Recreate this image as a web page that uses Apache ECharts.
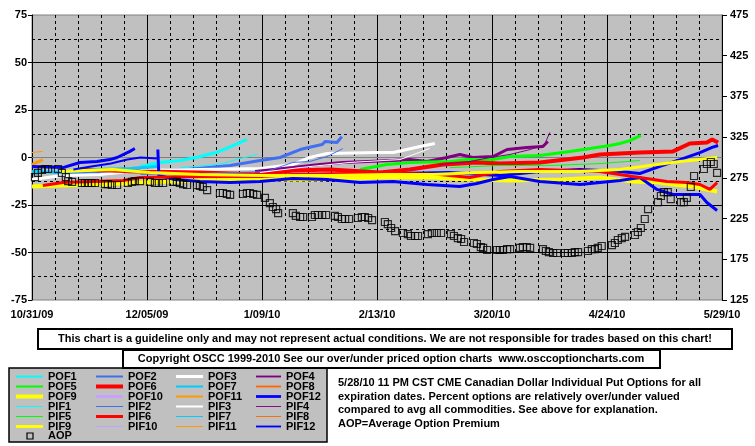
<!DOCTYPE html>
<html><head><meta charset="utf-8">
<script src="https://cdn.jsdelivr.net/npm/echarts@6/dist/echarts.min.js"></script>
<style>html,body{margin:0;padding:0;background:#fff}#c{width:755px;height:446px}</style>
</head><body><div id="c"></div>
<script>
// x = days since 10/31/09
const dateLabels = ['10/31/09','12/05/09','1/09/10','2/13/10','3/20/10','4/24/10','5/29/10'];

const pof1 = [[33,-4.7],[39,-2.6],[45,-1.6],[50,0],[56,2.6],[60,5.3],[65.4,9.5]];
const pif1 = [[45,-5.3],[53,-4.2],[58,-3.2],[62,-1.1],[66,0.5],[68.5,1.6]];
const pof2 = [[8.5,-8.4],[20.7,-7.9],[32.9,-7.4],[47.2,-6.3],[60.3,-4.2],[69.4,-1.6],[75.5,0],[81.6,4.2],[85.5,5.8],[88.3,6.8],[89.2,8.4],[92.8,7.9],[94.3,11]];
const pif2 = [[33,-8.9],[51,-8.4],[71.3,-7.4],[79.4,-2.6],[84.5,-2.1],[89.8,0.5],[94.6,4.7]];
const pof3 = [[0,-11.6],[9.4,-9.5],[20.7,-8.9],[32.9,-6.8],[51.1,-6.3],[69.4,-5.8],[79.4,-3.7],[84.5,0],[89.8,2.1],[105,2.6],[109.9,2.6],[114.1,4.2],[118.1,5.8],[122.6,7.4]];
const pif3 = [[69.4,-7.9],[81.6,-5.3],[96.8,-2.6],[112,-1.1],[121,4.7]];
const pof4 = [[67.9,-7.4],[79.4,-5.3],[87.6,-3.7],[94.6,-2.6],[109.9,-1.6],[115,-1.1],[120.2,-2.1],[126.3,0],[130.2,1.6],[134.2,0],[140.3,0.5],[144.6,4.2],[150.6,5.3],[155.5,5.8],[157,8.4]];
const pif4 = [[124,-3.7],[133.3,-2.1],[139.4,0],[145.5,1.6],[151.6,4.2],[156,6.8],[157.6,13.2]];
const pof5 = [[99.8,-6.3],[108,-3.7],[115,-2.6],[127.2,-2.1],[132.4,-1.1],[140.3,-1.1],[145.5,0.5],[154.6,1.1],[163.7,3.2],[169.8,4.7],[175.9,6.3],[178.9,7.4],[182,8.9],[185.3,11.6]];
const pif5 = [[127.2,-5.3],[142.4,-4.2],[157.6,-4.2],[172.9,-3.2],[185,-1.6]];
const pof6 = [[14.6,-6.3],[32.9,-7.4],[51.1,-7.9],[69.4,-8.9],[79.4,-6.8],[90.7,-6.3],[105.9,-7.9],[115,-6.3],[125.1,-3.7],[135.4,-2.6],[142.4,-3.2],[154.6,-2.6],[167.7,0],[172.9,1.6],[185,2.6],[195.1,3.2],[200.2,7.4],[205.4,7.9],[207,9.5],[208.8,7.9]];
const pif6 = [[3.3,-14.7],[9.4,-13.2],[27.7,-12.1],[32.9,-10.5],[51.1,-10],[69.4,-10],[79.4,-8.9],[96.8,-8.4],[112,-8.4],[124.1,-8.9],[133.3,-10.5],[142.4,-7.4],[154.6,-6.3],[172.9,-7.4],[182.9,-10],[193.2,-12.6],[199.3,-13.2],[203.3,-14.2],[206.3,-16.8],[208.5,-13.2]];
const pof7 = [[0,-7.4],[8,-7.9],[20,-6.3],[30,-5.8],[38,-4.7]];
const pif7 = [];
const pof8 = [];
const pif8 = [];
const pof9 = [[0,-15.3],[8.5,-14.7],[20.7,-14.2],[33.8,-13.2],[51.1,-12.1],[69.4,-11.6],[86.7,-11.6],[106.8,-10.5],[122,-10.5],[133.3,-11.6],[145.5,-12.1],[160.7,-11.6],[172.9,-10.5],[182.9,-12.6],[191.1,-13.2],[195.1,-14.2],[201.2,-15.3],[205.4,-16.8],[208.5,-17.9]];
const pif9 = [[8.5,-7.4],[24.6,-6.3],[35.9,-7.9],[51.1,-8.9],[69.4,-9.5],[90.7,-9.5],[108,-8.9],[122,-8.9],[136.3,-7.9],[148.5,-7.4],[166.8,-7.4],[179,-6.3],[188,-4.2],[197.2,-2.1],[203.3,-1.1],[208.5,0]];
const pof10 = [];
const pif10 = [];
const pof11 = [[0,-3.7],[3.3,-1.1]];
const pif11 = [[0,2.6],[3.3,3.2]];
const pof12a = [[0,-4.7],[9.4,-5.3],[14.6,-2.6],[19.8,-2.1],[23.7,-1.1],[25.9,0],[29.8,3.2],[31.3,4.7]];
const pof12b = [[38.3,4.2],[38.6,-9.5],[43.5,-11.6],[51.1,-12.6],[60.3,-13.2],[69.4,-12.6],[79.4,-11],[89.8,-11.6],[99.8,-13.2],[109.9,-12.6],[120.2,-14.2],[130.2,-15.3],[135.4,-13.7],[140.3,-11.6],[145.5,-10],[154.6,-12.6],[166.8,-14.2],[179,-12.1],[185,-10.5],[190.2,-16.8],[195.1,-19.5],[203.3,-19.5],[205.4,-23.7],[208.5,-27.9]];
const pof12c = [[112,-8.4],[127,-7.9],[142.4,-9.5],[154.6,-7.4],[166.8,-6.3],[179,-7.4],[185,-8.4],[191.1,-4.7],[197.2,-1.1],[203.3,2.6],[207,5.3],[208.8,6.3]];
const pif12 = [[12.6,-6.3],[18,-4.7],[24,-3.2],[29,-1.1],[33,0],[38,-0.5]];

// Average Option Premium (right axis)
const aop = [[0.9,276],[1.8,281],[3.0,284.7],[4.0,285.9],[4.9,285.9],[7.9,285.9],[9.1,281],[10.3,276],[11.0,271],[12.2,270],
[15.2,268.7],[16.1,268.7],[17.0,268.7],[18.1,268.7],[19.2,268.7],[22.2,267.4],[23.1,267.4],[24.3,266.2],[25.9,266.2],
[29.2,268.7],[30.4,270],[31.3,271],[32.9,271],[35.9,270],[37.4,268.7],[38.6,268.7],[39.9,268.7],
[42.9,270],[44.1,270],[45.0,268.7],[46.0,267.4],[47.2,266.2],[50.2,266.2],[51.1,265],[52.0,263.8],[53.3,260],
[57.2,256.4],[58.1,256.4],[59.3,255.2],[60.3,254],[64.2,255.2],[65.4,256.4],[66.3,256.4],[67.3,255.2],[68.5,254],
[70.9,250.3],[72.4,244],[73.3,239.2],[74.3,236.7],[74.9,231.8],[79.4,231.8],[80.3,228.2],[81.6,226.9],[82.5,226.9],
[85.2,226.9],[86.1,229.4],[87.0,229.4],[88.3,229.4],[89.5,229.4],[92.2,228.2],[93.1,226.9],[94.3,224.5],[95.3,224.5],[96.5,224.5],
[99.2,225.7],[100.4,226.9],[101.3,226.9],[102.3,225.7],[103.5,223.2],[107.4,220.8],[108.3,218.3],[109.3,213.4],[110.5,209.7],
[112.9,207.3],[114.4,206],[115.3,203.6],[116.6,203.6],[117.5,203.6],[120.5,206],[121.7,207.3],[123.2,207.3],[124.5,207.3],
[127.5,206],[128.4,203.6],[129.6,201.1],[130.6,199.9],[131.5,196.2],[134.5,195],[135.4,193.8],[136.6,190],[137.3,188.9],[138.5,186.4],
[141.5,186.4],[142.4,186.4],[143.3,186.4],[144.6,187.6],[145.5,187.6],[148.5,188.9],[149.4,190],[150.6,190],[151.6,188.9],
[155.5,187.6],[156.4,185.2],[157.3,183.9],[158.6,182.7],[159.8,182.7],[162.2,182.7],[163.1,182.7],[164.3,182.7],[165.2,183.9],[166.2,183.9],
[169.2,185.2],[170.4,187.6],[171.3,187.6],[172.2,188.9],[173.4,191.3],[176.5,192.5],[177.4,195],[178.3,198.7],[179.5,201.1],[180.5,202.4],
[183.5,204.8],[184.4,208.5],[185.3,213.4],[186.5,224.5],[187.5,236.7],[190.5,245.3],[191.4,252.7],[192.3,257.6],[193.5,257.6],[194.4,249],
[197.5,245.3],[198.4,245.3],[199.3,250.3],[200.5,263.8],[201.5,277.3],[204.5,285.9],[205.4,292],[206.6,294.5],[207.5,292],[208.5,281]];

const COL = {c1:'#00FFFF',c2:'#4070F0',c3:'#FFFFFF',c4:'#800080',c5:'#00FF00',c6:'#FF0000',
  c7:'#00CCFF',c8:'#FF6600',c9:'#FFFF00',c10:'#C8A0FF',c11:'#FF9900',c12:'#0000FF'};
const FONT = '"Liberation Sans", Arial, sans-serif';

function line(name, data, color, width, z) {
  return {name, type:'line', data, symbol:'none', showSymbol:false, silent:true,
    lineStyle:{color, width}, itemStyle:{color}, z: z || 2, animation:false};
}

const series = [
  line('POF1', pof1, COL.c1, 3), line('POF2', pof2, COL.c2, 3), line('POF3', pof3, COL.c3, 3), line('POF4', pof4, COL.c4, 3),
  line('POF5', pof5, COL.c5, 3), line('POF6', pof6, COL.c6, 4), line('POF7', pof7, COL.c7, 3), line('POF8', pof8, COL.c8, 3),
  line('POF9', pof9, COL.c9, 4), line('POF10', pof10, COL.c10, 3), line('POF11', pof11, COL.c11, 3), line('POF12', pof12a, COL.c12, 3),
  line('POF12', pof12b, COL.c12, 3), line('POF12', pof12c, COL.c12, 3),
  line('PIF1', pif1, COL.c1, 1), line('PIF2', pif2, COL.c2, 1), line('PIF3', pif3, COL.c3, 1), line('PIF4', pif4, COL.c4, 1),
  line('PIF5', pif5, COL.c5, 1), line('PIF6', pif6, COL.c6, 3), line('PIF7', pif7, COL.c7, 1), line('PIF8', pif8, COL.c8, 1),
  line('PIF9', pif9, COL.c9, 3), line('PIF10', pif10, COL.c10, 1), line('PIF11', pif11, COL.c11, 1), line('PIF12', pif12, COL.c12, 2),
  {name:'AOP', type:'scatter', yAxisIndex:1, data:aop, symbol:'rect', symbolSize:7, silent:true, z:3,
    itemStyle:{color:'rgba(0,0,0,0)', borderColor:'#000', borderWidth:1.2}, animation:false}
];

// legend grid: rows x columns of series names, with legend icon thickness
const legendRows = [
  ['POF1','POF2','POF3','POF4'],
  ['POF5','POF6','POF7','POF8'],
  ['POF9','POF10','POF11','POF12'],
  ['PIF1','PIF2','PIF3','PIF4'],
  ['PIF5','PIF6','PIF7','PIF8'],
  ['PIF9','PIF10','PIF11','PIF12']
];
const legendThick = {POF1:2,POF2:2,POF3:3,POF4:2,POF5:2,POF6:4,POF7:2,POF8:2,POF9:4,POF10:3,POF11:2,POF12:3,
  PIF1:1,PIF2:1,PIF3:2,PIF4:1,PIF5:1,PIF6:3,PIF7:1,PIF8:1,PIF9:3,PIF10:1,PIF11:1,PIF12:2};
const colLeft = [16, 96, 176, 256];
const colIconW = [27, 27, 27, 25];
const legends = [];
legendRows.forEach((row, r) => row.forEach((name, c) => {
  legends.push({
    data: [{name, icon: 'path://M0,0H27V' + legendThick[name] + 'H0Z'}],
    left: colLeft[c], top: 371 + r * 10, padding: 0, itemGap: 0,
    itemWidth: colIconW[c], itemHeight: 10, selectedMode: false, z: 5,
    textStyle: {fontSize: 11, fontWeight: 'bold', color: '#000', fontFamily: FONT, lineHeight: 10}
  });
}));

const labelStyle = {fontSize: 11, fontWeight: 'bold', color: '#000', fontFamily: FONT};

const option = {
  animation: false,
  backgroundColor: '#fff',
  grid: {left: 32, right: 33, top: 15, bottom: 146, show: true, backgroundColor: '#C0C0C0', borderColor: '#808080', borderWidth: 1},
  legend: legends,
  xAxis: {
    type: 'value', min: 0, max: 210, interval: 35,
    axisLine: {show: true, lineStyle: {color: '#808080'}},
    axisTick: {show: false},
    axisLabel: Object.assign({margin: 9, showMinLabel: true, showMaxLabel: true,
      formatter: v => dateLabels[Math.round(v / 35)] || ''}, labelStyle),
    splitLine: {show: true, showMinLine: false, showMaxLine: false, lineStyle: {color: '#000', width: 1}},
    minorTick: {show: false, splitNumber: 5},
    minorSplitLine: {show: true, lineStyle: {color: '#000', width: 1, type: [3, 3]}}
  },
  yAxis: [
    {type: 'value', min: -75, max: 75, interval: 25, position: 'left',
      axisLine: {show: true, lineStyle: {color: '#000'}},
      axisTick: {show: true, length: 4, lineStyle: {color: '#000'}},
      axisLabel: Object.assign({margin: 5}, labelStyle),
      splitLine: {show: true, showMinLine: false, showMaxLine: false, lineStyle: {color: '#000', width: 1}},
      minorTick: {show: false, splitNumber: 2},
      minorSplitLine: {show: true, lineStyle: {color: '#000', width: 1, type: [3, 3]}}
    },
    {type: 'value', min: 125, max: 475, interval: 50, position: 'right',
      axisLine: {show: true, lineStyle: {color: '#000'}},
      axisTick: {show: true, length: 5, lineStyle: {color: '#000'}},
      axisLabel: Object.assign({margin: 8}, labelStyle),
      splitLine: {show: false}
    }
  ],
  graphic: [
    {type: 'rect', z: 1, shape: {x: 38, y: 329, width: 694, height: 20}, style: {fill: '#fff', stroke: '#000', lineWidth: 2}},
    {type: 'text', z: 2, x: 385, y: 339, style: {text: 'This chart is a guideline only and may not represent actual conditions. We are not responsible for trades based on this chart!', fill: '#000', font: 'bold 11px ' + FONT, textAlign: 'center', textVerticalAlign: 'middle'}},
    {type: 'rect', z: 1, shape: {x: 123, y: 350, width: 537, height: 18}, style: {fill: '#fff', stroke: '#000', lineWidth: 2}},
    {type: 'text', z: 2, x: 391, y: 359, style: {text: 'Copyright OSCC 1999-2010 See our over/under priced option charts  www.osccoptioncharts.com', fill: '#000', font: 'bold 11px ' + FONT, textAlign: 'center', textVerticalAlign: 'middle'}},
    {type: 'rect', z: 0, shape: {x: 9, y: 368, width: 318, height: 74}, style: {fill: '#C0C0C0', stroke: '#000', lineWidth: 1.5}},
    {type: 'rect', z: 2, shape: {x: 27, y: 433, width: 6, height: 6}, style: {fill: 'none', stroke: '#000', lineWidth: 1.2}},
    {type: 'text', z: 2, x: 48, y: 436, style: {text: 'AOP', fill: '#000', font: 'bold 11px ' + FONT, textVerticalAlign: 'middle'}},
    {type: 'text', z: 2, x: 338, y: 383, style: {text: '5/28/10 11 PM CST CME Canadian Dollar Individual Put Options for all', fill: '#000', font: 'bold 11px ' + FONT, textVerticalAlign: 'middle'}},
    {type: 'text', z: 2, x: 338, y: 397, style: {text: 'expiration dates. Percent options are relatively over/under valued', fill: '#000', font: 'bold 11px ' + FONT, textVerticalAlign: 'middle'}},
    {type: 'text', z: 2, x: 338, y: 410, style: {text: 'compared to avg all commodities. See above for explanation.', fill: '#000', font: 'bold 11px ' + FONT, textVerticalAlign: 'middle'}},
    {type: 'text', z: 2, x: 338, y: 424, style: {text: 'AOP=Average Option Premium', fill: '#000', font: 'bold 11px ' + FONT, textVerticalAlign: 'middle'}}
  ],
  series
};

const chart = echarts.init(document.getElementById('c'), null, {renderer: 'canvas'});
chart.setOption(option);
</script>
</body></html>
